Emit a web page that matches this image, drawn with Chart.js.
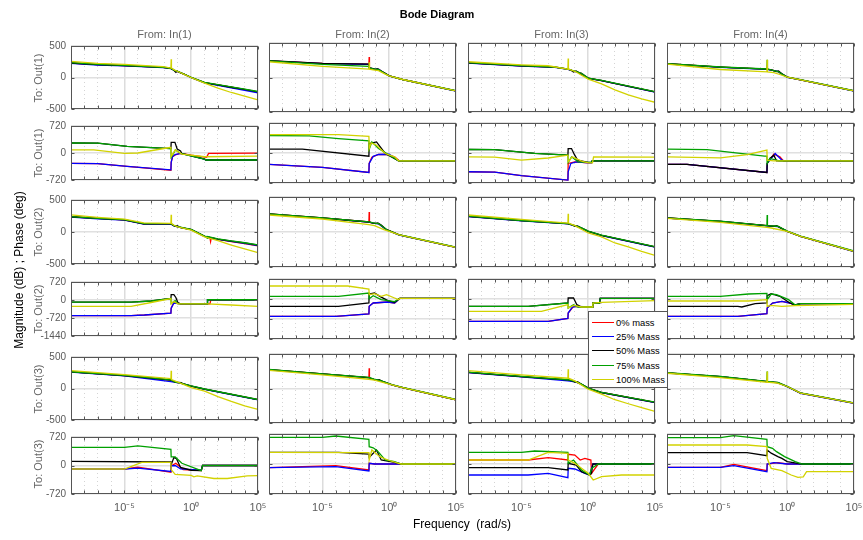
<!DOCTYPE html>
<html>
<head>
<meta charset="utf-8">
<script src="https://cdn.jsdelivr.net/npm/chart.js@4/dist/chart.umd.min.js"></script>
<style>
  body { margin: 0; background: #fff; }
  #page { position: relative; width: 863px; height: 540px; overflow: hidden;
          font-family: "Liberation Sans", Arial, sans-serif; }
  canvas.panel { position: absolute; }
  .txt { position: absolute; white-space: nowrap; transform: translate(-50%, -50%); }
  .rot { transform: translate(-50%, -50%) rotate(-90deg); }
  #legend { position: absolute; left: 588px; top: 311px; width: 78px; height: 75px;
            background: #fff; border: 1px solid #555; z-index: 5; }
  #legend .row { position: absolute; left: 0; height: 14px; font-size: 9.4px; color: #000; }
  #legend .swatch { position: absolute; left: 3px; top: 6px; width: 22px; height: 0; border-top: 1.5px solid; }
  #legend .name { position: absolute; left: 27px; top: 0; line-height: 14px; white-space: nowrap; }
</style>
</head>
<body>
<div id="page"></div>
<script>
const massLabels = ["0% mass", "25% Mass", "50% Mass", "75% Mass", "100% Mass"];
const massColors = ["#ff0000", "#0000ff", "#000000", "#00a000", "#d2d200"];
const inputLabels = ["From: In(1)", "From: In(2)", "From: In(3)", "From: In(4)"];
const outputLabels = ["To: Out(1)", "To: Out(1)", "To: Out(2)", "To: Out(2)", "To: Out(3)", "To: Out(3)"];
const decades = [1e-9, 1e-8, 1e-7, 1e-6, 1e-5, 1e-4, 1e-3, 1e-2, 1e-1, 1e0, 1e1, 1e2, 1e3, 1e4, 1e5];
const magTicks = [-500, 0, 500];
const phaseTicks = [-720, 0, 720];
const phaseTicksWide = [-1440, -720, 0, 720];

// each series: [log10(frequency rad/s), value]; order red, blue, black, green, yellow

// Out(1) magnitude
const m11 = [
  [[-9,230],[-7,203],[-5,189],[-2.1,160],[-1.52,145],[-1.3,118],[-1,95],[-0.5,50],[0,0],[1,-80],[2,-118],[3,-155],[4,-192],[5,-232]],
  [[-9,225],[-7,198],[-5,184],[-2.1,156],[-1.52,140],[-1.3,115],[-1,92],[-0.5,48],[0,-2],[1,-84],[2,-125],[3,-165],[4,-203],[5,-242]],
  [[-9,230],[-7,203],[-5,189],[-2.1,160],[-1.52,145],[-1.35,125],[-1.15,82],[-1.05,100],[-0.8,72],[-0.5,50],[0,0],[1,-80],[2,-118],[3,-155],[4,-190],[5,-228]],
  [[-9,236],[-7,208],[-5,192],[-2.1,163],[-1.52,147],[-1.3,118],[-1,96],[-0.5,52],[0,2],[1,-76],[2,-113],[3,-148],[4,-185],[5,-222]],
  [[-9,255],[-7,225],[-5,208],[-2.1,172],[-1.52,150],[-1.5,290],[-1.48,150],[-1.2,112],[-1,95],[-0.5,45],[0,-2],[1,-90],[2,-170],[3,-238],[4,-296],[5,-354]]
];
const m12 = [
  [[-9,242],[-5,204],[-1.52,194],[-1.5,296],[-1.48,140],[-1.2,125],[-0.8,121],[-0.4,70],[0,25],[1,-29],[5,-194]],
  [[-9,240],[-5,202],[-1.52,190],[-1.5,140],[-1.2,124],[-0.8,120],[-0.4,68],[0,23],[1,-31],[5,-196]],
  [[-9,244],[-5,206],[-1.52,194],[-1.5,140],[-1.2,128],[-1,112],[-0.9,125],[-0.7,100],[-0.4,70],[0,25],[1,-29],[5,-194]],
  [[-9,242],[-5,190],[-1.52,160],[-1.5,140],[-1.2,124],[-0.8,118],[-0.4,68],[0,25],[1,-29],[5,-192]],
  [[-9,228],[-5,160],[-1.52,121],[-1.5,220],[-1.48,121],[-1.2,112],[-0.8,100],[-0.3,50],[0,25],[1,-29],[5,-194]]
];
const m13 = [
  [[-9,213],[-5,170],[-2.5,150],[-1.52,121],[-1.2,100],[-1,90],[-0.5,60],[0,-10],[1,-44],[5,-209]],
  [[-9,210],[-5,167],[-2.5,147],[-1.52,118],[-1.2,98],[-1,88],[-0.5,58],[0,-12],[1,-46],[5,-212]],
  [[-9,213],[-5,170],[-2.5,150],[-1.52,121],[-1.3,108],[-1.1,78],[-0.9,95],[-0.6,55],[0,-10],[1,-44],[5,-209]],
  [[-9,216],[-5,172],[-2.5,152],[-1.52,123],[-1.2,102],[-1,92],[-0.5,62],[0,-8],[1,-42],[5,-205]],
  [[-9,228],[-5,184],[-3,170],[-1.52,121],[-1.5,276],[-1.48,121],[-1,90],[0,-24],[1,-92],[2,-180],[3,-252],[4,-310],[5,-359]]
];
const m14 = [
  [[-9,199],[-5,150],[-1.52,121],[-1.2,110],[-0.7,85],[0,5],[1,-34],[5,-194]],
  [[-9,197],[-5,148],[-1.52,119],[-1.2,108],[-0.7,88],[0,3],[1,-36],[5,-196]],
  [[-9,199],[-5,150],[-1.52,121],[-1.2,110],[-0.8,85],[-0.65,95],[-0.4,55],[0,5],[1,-34],[5,-194]],
  [[-9,201],[-5,152],[-1.52,123],[-1.5,257],[-1.48,123],[-1.2,112],[-0.7,87],[0,7],[1,-32],[5,-192]],
  [[-9,194],[-5,116],[-1.52,82],[-1.5,257],[-1.48,82],[-1,72],[-0.5,40],[0,5],[1,-34],[5,-194]]
];

// Out(1) phase
const p11 = [
  [[-9,-275],[-7,-282],[-4.8,-354],[-1.52,-458],[-1.5,-250],[-1.4,-100],[-1.2,-52],[-0.8,-12],[0,-60],[1.15,-115],[1.3,-10],[5,-4]],
  [[-9,-275],[-7,-282],[-4.8,-354],[-1.52,-450],[-1.5,-250],[-1.4,-100],[-1.2,-40],[-0.8,-12],[1,-163],[1.1,-187],[5,-187]],
  [[-9,267],[-7,262],[-4.8,179],[-1.52,115],[-1.5,283],[-1.22,283],[-1.05,107],[-0.8,52],[-0.7,-12],[1,-163],[1.1,-187],[5,-187]],
  [[-9,267],[-7,262],[-4.8,179],[-1.52,115],[-1.5,-115],[-1.4,-60],[-1.18,84],[-0.8,-12],[1,-163],[1.1,-187],[5,-187]],
  [[-9,84],[-7.3,84],[-5,-12],[-4,0],[-1.6,147],[-1.52,150],[-1.5,-92],[-1.2,84],[-0.7,-28],[1,-100],[5,-85]]
];
const p12 = [
  [[-9,-275],[-5,-345],[-1.52,-466],[-1.5,-250],[-1.3,-100],[-0.8,-36],[-0.2,-36],[0.4,-92],[0.75,-187],[5,-187]],
  [[-9,-275],[-5,-345],[-1.52,-466],[-1.5,-250],[-1.2,-80],[-0.8,-36],[0,-30],[0.7,-187],[5,-187]],
  [[-9,92],[-6.5,92],[-1.52,-76],[-1.5,227],[-0.95,267],[-0.3,-12],[0.7,-187],[5,-187]],
  [[-9,420],[-6,410],[-3.8,346],[-1.52,290],[-1.5,84],[-1.3,267],[-0.8,107],[0.7,-187],[5,-187]],
  [[-9,442],[-3.8,442],[-1.52,402],[-1.5,107],[-1.35,243],[-0.95,187],[-0.3,-12],[0.4,-92],[0.7,-187],[5,-187]]
];
const p13 = [
  [[-9,-450],[-7,-460],[-5,-545],[-1.52,-649],[-1.5,-250],[-1,-211],[-0.5,-227],[0,-235],[0.25,-235],[0.3,-187],[5,-187]],
  [[-9,-450],[-7,-460],[-5,-545],[-1.52,-649],[-1.5,-450],[-1.3,-250],[-0.9,-211],[0,-235],[0.25,-235],[0.3,-187],[5,-187]],
  [[-9,84],[-7,80],[-4,-10],[-1.52,-52],[-1.5,107],[-1.25,107],[-1.05,-28],[-0.8,-171],[0,-227],[0.25,-227],[0.3,-187],[5,-187]],
  [[-9,84],[-7,80],[-4,-10],[-1.52,-52],[-1.5,-227],[-1.25,-92],[-0.75,-211],[0,-227],[0.25,-227],[0.3,-187],[5,-187]],
  [[-9,-92],[-7,-100],[-5,-171],[-3,-120],[-1.52,-52],[-1.5,-211],[-1.2,-92],[-0.5,-195],[0,-235],[0.32,-235],[0.4,-92],[5,-100]]
];
const p14 = [
  [[-9,-275],[-7.5,-275],[-1.52,-466],[-1.5,-250],[-1,-28],[-0.55,-92],[-0.3,-187],[5,-187]],
  [[-9,-275],[-7.5,-275],[-1.52,-466],[-1.5,-250],[-0.9,-12],[-0.4,-171],[-0.2,-187],[5,-187]],
  [[-9,-275],[-7.5,-275],[-1.52,-466],[-1.5,-250],[-1.3,-131],[-1,-52],[-0.8,-187],[-0.5,-187],[5,-187]],
  [[-9,92],[-6,80],[-1.7,-76],[-1.52,-76],[-1.5,-250],[-1.3,-131],[-0.6,-187],[5,-187]],
  [[-9,-92],[-5,-115],[-3,-40],[-1.52,68],[-1.5,-171],[-1,-187],[5,-187]]
];

// Out(2) magnitude
const m21 = [
  [[-9,238],[-7,212],[-5,190],[-3.55,128],[-1.52,128],[-1.3,100],[-1,81],[0,38],[1,-67],[1.4,-88],[1.45,-148],[1.5,-92],[2,-115],[3,-150],[4,-180],[5,-215]],
  [[-9,233],[-7,207],[-5,185],[-3.55,124],[-1.52,124],[-1.3,97],[-1,79],[0,36],[1,-69],[2,-114],[3,-148],[4,-177],[5,-212]],
  [[-9,238],[-7,212],[-5,190],[-3.55,128],[-1.52,128],[-1.4,110],[-1.2,90],[-1.05,100],[-0.8,70],[0,38],[1,-67],[2,-110],[3,-143],[4,-171],[5,-205]],
  [[-9,240],[-7,214],[-5,192],[-3.55,130],[-1.52,130],[-1.3,102],[-1,82],[0,40],[1,-65],[1.15,-70],[1.2,-100],[1.25,-72],[2,-108],[3,-140],[4,-168],[5,-200]],
  [[-9,267],[-7,230],[-5,200],[-3.55,143],[-1.52,135],[-1.5,271],[-1.48,135],[-1.3,105],[-1,81],[0,30],[1,-75],[2,-133],[3,-205],[4,-262],[5,-324]]
];
const m22 = [
  [[-9,257],[-5,200],[-1.52,143],[-1.5,286],[-1.48,140],[-1.2,128],[-0.8,119],[-0.2,33],[0.7,-38],[1,-52],[5,-219]],
  [[-9,254],[-5,197],[-1.52,140],[-1.2,126],[-0.8,117],[-0.2,31],[0.7,-40],[1,-54],[5,-221]],
  [[-9,257],[-5,200],[-1.52,143],[-1.2,128],[-1,120],[-0.85,130],[-0.6,100],[-0.2,33],[0.7,-38],[1,-52],[5,-219]],
  [[-9,259],[-5,202],[-1.52,145],[-1.2,130],[-0.8,121],[-0.2,35],[0.7,-36],[1,-50],[5,-217]],
  [[-9,243],[-5,186],[-1.52,105],[-1.1,90],[-0.4,33],[0,10],[0.7,-38],[1,-52],[5,-219]]
];
const m23 = [
  [[-9,224],[-5,162],[-1.52,119],[-1,90],[-0.5,57],[0,10],[1,-48],[5,-214]],
  [[-9,221],[-5,159],[-1.52,116],[-1,88],[-0.5,55],[0,8],[1,-50],[5,-217]],
  [[-9,224],[-5,162],[-1.52,119],[-1.2,100],[-1,80],[-0.8,88],[-0.5,57],[0,10],[1,-48],[5,-214]],
  [[-9,226],[-5,164],[-1.52,121],[-1,92],[-0.5,59],[0,12],[1,-46],[5,-210]],
  [[-9,243],[-5,181],[-1.52,128],[-1.5,262],[-1.48,128],[-1,90],[0,-14],[1,-71],[2,-157],[3,-214],[4,-276],[5,-333]]
];
const m24 = [
  [[-9,200],[-5,152],[-1.52,90],[-0.7,80],[0,10],[1,-62],[5,-276]],
  [[-9,198],[-5,150],[-1.52,88],[-0.7,78],[0,8],[1,-64],[5,-279]],
  [[-9,200],[-5,152],[-1.52,90],[-1,80],[-0.8,90],[-0.5,60],[0,10],[1,-62],[5,-276]],
  [[-9,202],[-5,154],[-1.52,92],[-1.5,243],[-1.48,92],[-0.7,82],[0,12],[1,-60],[5,-272]],
  [[-9,195],[-5,138],[-1.52,67],[-1.2,57],[0,10],[1,-62],[5,-276]]
];

// Out(2) phase
const p21 = [
  [[-9,-624],[-4.5,-624],[-3.5,-600],[-1.52,-528],[-1.5,-324],[-1.3,-108],[-0.8,-156],[1.4,-156],[1.45,-40],[1.5,10],[5,10]],
  [[-9,-624],[-4.5,-624],[-3.5,-600],[-1.52,-528],[-1.5,-324],[-1.3,-120],[-0.8,-156],[1.2,-156],[1.22,10],[5,10]],
  [[-9,-84],[-4.5,-84],[-3,-40],[-1.52,60],[-1.5,216],[-1.3,216],[-1.15,100],[-1,-100],[-0.8,-156],[1.2,-156],[1.22,10],[5,10]],
  [[-9,-84],[-4.5,-84],[-3,-40],[-1.52,60],[-1.5,-144],[-1.2,-24],[-1,-144],[1.2,-156],[1.22,10],[5,10]],
  [[-9,-252],[-4.5,-252],[-3,-100],[-1.52,60],[-1.5,-156],[-1.3,-60],[-1,-156],[1.2,-156],[3,-200],[5,-252]]
];
const p22 = [
  [[-9,-624],[-4,-624],[-1.52,-540],[-1.5,-264],[-1.2,-144],[-0.1,-108],[0.4,-144],[0.78,20],[5,20]],
  [[-9,-624],[-4,-624],[-1.52,-540],[-1.5,-264],[-1.2,-144],[-0.1,-108],[0.4,-144],[0.8,20],[5,20]],
  [[-9,-264],[-3.8,-264],[-1.52,-144],[-1.5,180],[-1.1,216],[-0.7,96],[-0.1,-60],[0.4,-120],[0.8,20],[5,20]],
  [[-9,96],[-3.8,96],[-1.52,216],[-1.5,12],[-1.2,120],[-0.6,-24],[0.4,-96],[0.8,20],[5,20]],
  [[-9,468],[-3.1,468],[-1.52,360],[-1.5,156],[-1.1,192],[-0.6,96],[-0.2,156],[0.4,36],[0.7,-24],[0.8,20],[5,20]]
];
const p23 = [
  [[-9,-804],[-3,-804],[-1.52,-696],[-1.5,-504],[-1.1,-264],[0.3,-288],[0.35,-144],[0.85,-144],[0.9,24],[5,24]],
  [[-9,-804],[-3,-804],[-1.52,-696],[-1.5,-504],[-1.2,-300],[-1,-264],[0.3,-288],[0.35,-144],[0.85,-144],[0.9,24],[5,24]],
  [[-9,-264],[-4.5,-264],[-1.52,-144],[-1.5,36],[-1.1,36],[-0.85,-204],[-0.5,-288],[0.3,-288],[0.35,-144],[0.85,-144],[0.9,24],[5,24]],
  [[-9,-264],[-4.5,-264],[-1.52,-144],[-1.5,-324],[-1.1,-204],[-0.75,-288],[0.3,-288],[0.35,-144],[0.85,-144],[0.9,24],[5,24]],
  [[-9,-444],[-3.5,-444],[-1.52,-204],[-1.5,-324],[-1.1,-230],[-0.5,-288],[0.3,-288],[0.35,-144],[1,-120],[5,-60]]
];
const p24 = [
  [[-9,-624],[-3.7,-624],[-1.52,-528],[-1.5,-324],[-1.1,-144],[-0.4,-84],[0.2,-144],[0.6,-216],[1,-168],[5,-168]],
  [[-9,-624],[-3.7,-624],[-1.52,-528],[-1.5,-324],[-1.1,-144],[-0.4,-84],[0.2,-144],[0.6,-216],[1,-168],[5,-168]],
  [[-9,-264],[-3.7,-264],[-3.4,-288],[-2.4,-168],[-1.52,-144],[-1.5,120],[-1.2,192],[-0.55,96],[0.2,-144],[0.6,-216],[1,-168],[5,-168]],
  [[-9,96],[-5,96],[-2.9,180],[-1.52,204],[-1.5,-24],[-1.2,180],[-0.8,156],[0.1,-24],[0.6,-216],[1,-168],[5,-168]],
  [[-9,-72],[-2.9,-72],[-1.52,-24],[-1.5,-264],[-1.2,-228],[-0.4,-264],[0.6,-240],[5,-192]]
];

// Out(3) magnitude
const m31 = [
  [[-9,264],[-5,206],[-1.52,134],[-1.2,100],[-0.8,85],[0,38],[1,-10],[5,-178]],
  [[-9,260],[-5,202],[-1.52,110],[-1.3,100],[-0.8,84],[0,36],[1,-12],[5,-182]],
  [[-9,264],[-5,206],[-1.52,134],[-1.2,100],[-0.75,92],[-0.6,75],[0,38],[1,-10],[5,-178]],
  [[-9,266],[-5,208],[-1.52,136],[-1.2,102],[-0.8,86],[0,40],[1,-8],[5,-175]],
  [[-9,283],[-5,221],[-1.52,158],[-1.5,283],[-1.48,140],[-1,100],[0,14],[1,-43],[2,-130],[3,-206],[4,-274],[5,-331]]
];
const m32 = [
  [[-9,274],[-5,211],[-1.52,158],[-1.5,293],[-1.48,140],[-1.1,130],[-0.7,115],[0.2,53],[1,14],[5,-163]],
  [[-9,271],[-5,208],[-1.52,155],[-1.1,128],[-0.7,113],[0.2,51],[1,12],[5,-166]],
  [[-9,274],[-5,211],[-1.52,158],[-1.1,130],[-0.9,120],[-0.75,128],[-0.5,105],[0.2,53],[1,14],[5,-163]],
  [[-9,276],[-5,213],[-1.52,160],[-1.1,132],[-0.7,117],[0.2,55],[1,16],[5,-160]],
  [[-9,264],[-5,197],[-1.52,134],[-1.1,120],[0.2,53],[1,14],[5,-163]]
];
const m33 = [
  [[-9,235],[-5,173],[-1.52,125],[-1,101],[-0.5,62],[0,5],[1,-58],[5,-202]],
  [[-9,232],[-5,170],[-1.52,110],[-1,98],[-0.5,60],[0,3],[1,-60],[5,-205]],
  [[-9,235],[-5,173],[-1.52,125],[-1.2,110],[-1,92],[-0.8,100],[-0.5,62],[0,5],[1,-58],[5,-202]],
  [[-9,237],[-5,175],[-1.52,127],[-1,103],[-0.5,64],[0,7],[1,-56],[5,-199]],
  [[-9,259],[-5,197],[-1.52,149],[-1.5,278],[-1.48,149],[-1,110],[0,-10],[1,-82],[2,-163],[3,-221],[4,-278],[5,-331]]
];
const m34 = [
  [[-9,226],[-5,173],[-1.52,101],[-0.7,86],[0,29],[1,-67],[5,-211]],
  [[-9,224],[-5,171],[-1.52,99],[-0.7,84],[0,27],[1,-69],[5,-214]],
  [[-9,226],[-5,173],[-1.52,101],[-1,90],[-0.75,86],[-0.5,65],[0,29],[1,-67],[5,-211]],
  [[-9,228],[-5,175],[-1.52,103],[-1.5,245],[-1.48,103],[-0.7,88],[0,31],[1,-65],[5,-208]],
  [[-9,221],[-5,158],[-1.52,91],[-1.5,245],[-1.48,91],[-0.8,80],[0,29],[1,-67],[5,-211]]
];

// Out(3) phase
const p31 = [
  [[-9,-88],[-5,-88],[-4,-40],[-1.52,-168],[-1.5,-8],[-1.15,56],[-0.6,-104],[0.75,-128],[0.85,0],[5,0]],
  [[-9,-88],[-5,-88],[-4,-64],[-1.52,-150],[-1.5,-8],[-1.2,0],[-0.8,-88],[0.75,-120],[0.85,0],[5,0]],
  [[-9,104],[-1.52,88],[-1.5,16],[-1.3,200],[-1.1,170],[-0.8,-50],[0,-120],[0.75,-128],[0.85,0],[5,0]],
  [[-9,456],[-5,456],[-4,496],[-1.52,408],[-1.5,216],[-1.2,216],[-0.7,56],[0.75,-128],[0.85,0],[5,0]],
  [[-9,-88],[-5,-88],[-3.7,80],[-1.52,80],[-1.5,-104],[-1.2,-224],[0,-248],[0.2,-288],[0.45,-264],[1.7,-328],[2.7,-328],[4.2,-264],[5,-256]]
];
const p32 = [
  [[-9,-88],[-4,-40],[-1.52,-144],[-1.5,16],[-1.1,0],[0.9,0],[5,0]],
  [[-9,-88],[-4,-64],[-1.52,-168],[-1.5,16],[-1.1,0],[5,0]],
  [[-9,280],[-3.8,280],[-1.52,240],[-1.5,160],[-0.95,336],[-0.6,96],[0.4,40],[0.9,0],[5,0]],
  [[-9,640],[-5,640],[-4,672],[-1.52,592],[-1.5,416],[-1.2,390],[-0.9,320],[-0.3,96],[0.4,56],[0.9,0],[5,0]],
  [[-9,280],[-1.52,272],[-1.5,96],[-1.3,336],[-0.7,176],[-0.1,96],[0.7,16],[0.9,0],[5,0]]
];
const p33 = [
  [[-9,96],[-4.5,96],[-3,152],[-1.52,96],[-1.5,232],[-1,216],[-0.6,96],[-0.25,136],[0.2,96],[0.25,-224],[0.75,0],[5,0]],
  [[-9,-264],[-4.5,-264],[-3,-224],[-1.52,-328],[-1.5,-104],[-1,-120],[-0.25,-224],[0.1,-264],[0.35,0],[5,0]],
  [[-9,-88],[-3,-88],[-1.52,-144],[-1.5,16],[-0.9,-24],[-0.5,-184],[0.1,-264],[0.25,-220],[0.35,0],[5,0]],
  [[-9,280],[-5,280],[-4,312],[-1.52,280],[-1.5,16],[-1.1,96],[-0.5,-144],[0.1,-264],[0.25,-104],[0.75,0],[5,0]],
  [[-9,96],[-4.5,96],[-3,280],[-1.52,256],[-1.5,96],[-1,16],[-0.5,-104],[0,-224],[0.375,-384],[1,-304],[2.5,-264],[5,-264]]
];
const p34 = [
  [[-9,-80],[-5,-80],[-4,-8],[-1.52,-160],[-1.5,0],[-0.7,32],[0,0],[5,0]],
  [[-9,-80],[-5,-80],[-4,-40],[-1.52,-184],[-1.5,0],[-1,32],[0,0],[5,0]],
  [[-9,272],[-3,272],[-1.52,200],[-1.5,336],[-1.2,260],[-0.7,176],[-0.4,136],[0,56],[0.8,16],[1.1,0],[5,0]],
  [[-9,632],[-5,632],[-4,680],[-1.52,592],[-1.5,416],[-1.1,376],[-0.8,296],[-0.2,176],[0.6,56],[1.1,0],[5,0]],
  [[-9,456],[-3,456],[-1.52,416],[-1.5,136],[-1.2,-104],[-0.4,-160],[0.3,-264],[0.8,-320],[1.2,-310],[1.45,-184],[5,-184]]
];

const panelRows = [
  [m11, m12, m13, m14],
  [p11, p12, p13, p14],
  [m21, m22, m23, m24],
  [p21, p22, p23, p24],
  [m31, m32, m33, m34],
  [p31, p32, p33, p34]
];
const rowTicks = [magTicks, phaseTicks, magTicks, phaseTicksWide, magTicks, phaseTicks];

const COL_LEFT = [71, 269, 468, 667];
const PLOT_W = 187;
const ROW_TOP = [43, 123, 197, 279, 354, 434];
const ROW_H = [69, 60, 70, 60, 69, 60];

Chart.defaults.font.family = '"Liberation Sans", Arial, sans-serif';
Chart.defaults.font.size = 10;
Chart.defaults.color = "#5a5a5a";

const page = document.getElementById("page");

function toPoints(series) {
  return series.map(p => ({ x: Math.pow(10, p[0]), y: p[1] }));
}

function decadeOf(v) { return Math.round(Math.log10(v)); }

const SUP = { "-": "\u207B", "0": "\u2070", "1": "\u00B9", "5": "\u2075" };
function decadeLabel(v) {
  const e = decadeOf(v);
  if (e % 5 !== 0) return "";
  return "10" + String(e).split("").map(c => SUP[c]).join("");
}

// axes box with inward tick marks, like the usual bode plot frame
const boxPlugin = {
  id: "box",
  afterDraw(chart) {
    const { ctx, chartArea: a, scales: { x, y } } = chart;
    const l = Math.round(a.left) + 0.5, r = Math.round(a.right) - 0.5;
    const t = Math.round(a.top) + 0.5, b = Math.round(a.bottom) - 0.5;
    ctx.save();
    ctx.strokeStyle = "#555";
    ctx.lineWidth = 1;
    ctx.beginPath();
    x.ticks.forEach(tk => {
      const px = Math.round(x.getPixelForValue(tk.value)) + 0.5;
      ctx.moveTo(px, t); ctx.lineTo(px, t + 3);
      ctx.moveTo(px, b); ctx.lineTo(px, b - 3);
    });
    y.ticks.forEach(tk => {
      const py = Math.round(y.getPixelForValue(tk.value)) + 0.5;
      ctx.moveTo(l, py); ctx.lineTo(l + 3, py);
      ctx.moveTo(r, py); ctx.lineTo(r - 3, py);
    });
    ctx.stroke();
    ctx.strokeRect(l, t, r - l, b - t);
    ctx.restore();
  }
};

function createPanel(row, col) {
  const ticks = rowTicks[row];
  // margins around the plot area leave room for tick labels
  const padL = col === 0 ? 45 : 12;
  const padR = 22, padT = 8;
  const padB = row === 5 ? 24 : 8;
  const canvas = document.createElement("canvas");
  canvas.className = "panel";
  canvas.width = PLOT_W + padL + padR;
  canvas.height = ROW_H[row] + padT + padB;
  canvas.style.left = (COL_LEFT[col] - padL) + "px";
  canvas.style.top = (ROW_TOP[row] - padT) + "px";
  page.appendChild(canvas);

  const datasets = panelRows[row][col].map((s, i) => ({
    label: massLabels[i],
    data: toPoints(s),
    borderColor: massColors[i],
    borderWidth: 1.3,
    pointRadius: 0,
    tension: 0,
    order: 4 - i
  }));

  return new Chart(canvas, {
    type: "line",
    data: { datasets: datasets },
    options: {
      responsive: false,
      animation: false,
      events: [],
      layout: { padding: { left: 0, right: padR, top: padT, bottom: 0 } },
      plugins: { legend: { display: false }, tooltip: { enabled: false } },
      scales: {
        x: {
          type: "logarithmic",
          min: 1e-9,
          max: 1e5,
          afterBuildTicks: s => { s.ticks = decades.map(v => ({ value: v })); },
          afterFit: s => { s.height = padB; },
          ticks: {
            display: row === 5,
            autoSkip: false,
            maxRotation: 0,
            minRotation: 0,
            padding: 7,
            font: { size: 11 },
            callback: v => decadeLabel(v)
          },
          grid: {
            drawTicks: false,
            color: c => (c.tick && decadeOf(c.tick.value) % 5 === 0) ? "#dcdcdc" : "#d4d4d4",
            lineWidth: c => (c.tick && decadeOf(c.tick.value) % 5 === 0) ? 1.5 : 1
          },
          border: {
            display: false,
            dash: c => (c.tick && decadeOf(c.tick.value) % 5 !== 0) ? [1, 3] : []
          }
        },
        y: {
          min: ticks[0],
          max: ticks[ticks.length - 1],
          afterBuildTicks: s => { s.ticks = ticks.map(v => ({ value: v })); },
          afterFit: s => { s.width = padL; },
          ticks: { display: col === 0, padding: 5, callback: v => String(v) },
          grid: { drawTicks: false, color: "#e0e0e0", lineWidth: 1.5 },
          border: { display: false }
        }
      }
    },
    plugins: [boxPlugin]
  });
}

function addText(text, x, y, style, rotated) {
  const d = document.createElement("div");
  d.className = rotated ? "txt rot" : "txt";
  d.textContent = text;
  d.style.left = x + "px";
  d.style.top = y + "px";
  Object.assign(d.style, style);
  page.appendChild(d);
}

for (let r = 0; r < 6; r++) {
  for (let c = 0; c < 4; c++) createPanel(r, c);
}

addText("Bode Diagram", 437, 14, { fontSize: "11px", fontWeight: "bold", color: "#000" });
inputLabels.forEach((t, c) =>
  addText(t, COL_LEFT[c] + PLOT_W / 2, 34, { fontSize: "11px", color: "#666" }));
outputLabels.forEach((t, r) =>
  addText(t, 38, ROW_TOP[r] + ROW_H[r] / 2, { fontSize: "11px", color: "#666" }, true));
addText("Magnitude (dB) ; Phase (deg)", 19, 270, { fontSize: "12px", color: "#000" }, true);
addText("Frequency  (rad/s)", 462, 524, { fontSize: "12px", color: "#000", whiteSpace: "pre" });

// legend
const legend = document.createElement("div");
legend.id = "legend";
massLabels.forEach((name, i) => {
  const rowEl = document.createElement("div");
  rowEl.className = "row";
  rowEl.style.top = (4 + i * 14.2) + "px";
  rowEl.innerHTML = '<div class="swatch"></div><div class="name"></div>';
  rowEl.firstChild.style.borderTopColor = massColors[i];
  rowEl.lastChild.textContent = name;
  legend.appendChild(rowEl);
});
page.appendChild(legend);
</script>
</body>
</html>
